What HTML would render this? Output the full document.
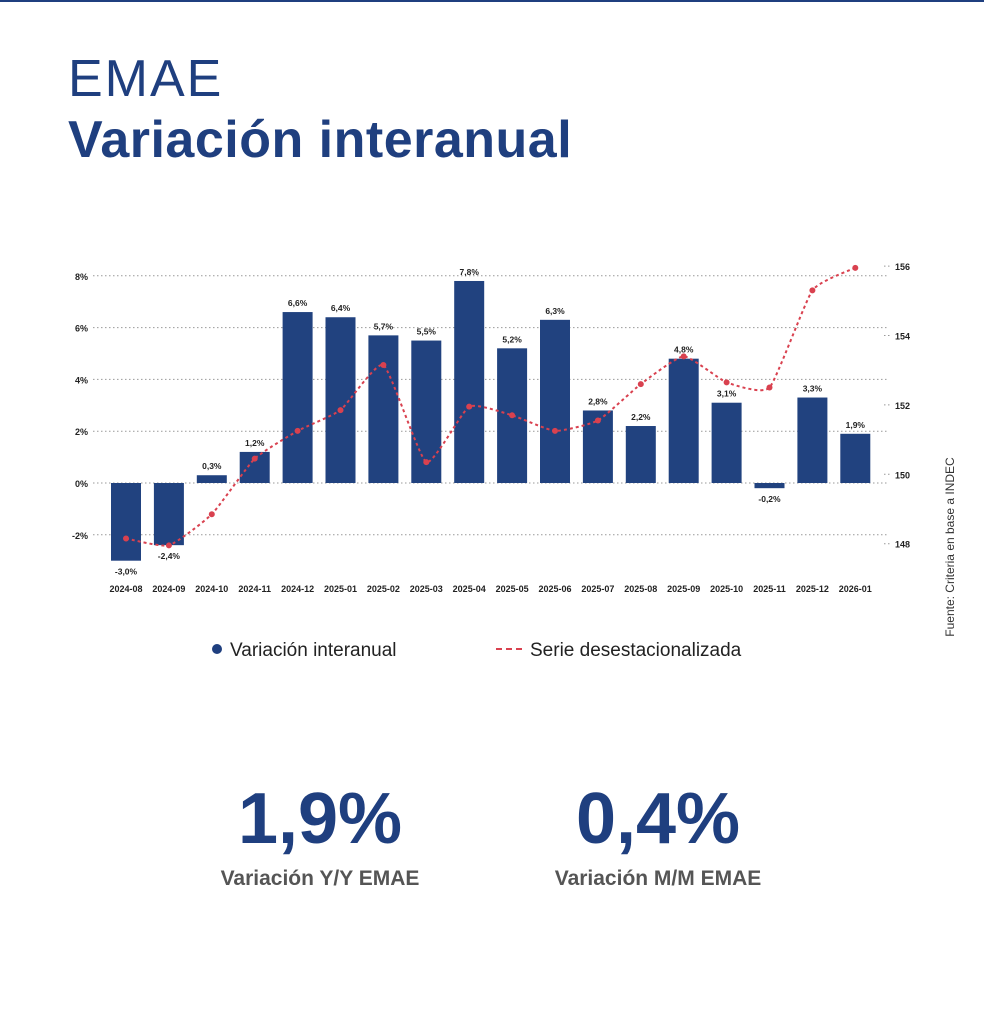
<!DOCTYPE html>
<html><head><meta charset="utf-8"><style>
body{margin:0;background:#fff;}
#wrap{position:relative;width:984px;height:1024px;overflow:hidden;font-family:"Liberation Sans",sans-serif;}
.t1{position:absolute;left:68px;top:49px;font-size:52px;color:#1f3f7f;letter-spacing:2px;}
.t2{position:absolute;left:68px;top:110px;font-size:52px;font-weight:bold;color:#1f3f7f;letter-spacing:0.5px;}
.big{position:absolute;font-size:72px;font-weight:bold;color:#1f3f7f;text-align:center;}
.sub{position:absolute;font-size:21px;font-weight:bold;color:#555;text-align:center;}
</style></head><body>
<div id="wrap">
<div style="position:absolute;left:0;top:0;width:984px;height:2px;background:#1f3f7f"></div>
<div class="t1">EMAE</div>
<div class="t2">Variación interanual</div>
<svg id="chart" width="984" height="700" style="position:absolute;left:0;top:0"></svg>
<div style="position:absolute;left:850px;top:540px;width:200px;transform:rotate(-90deg);font-size:12px;color:#333;text-align:center">Fuente: Criteria en base a INDEC</div>
<div style="position:absolute;left:212px;top:640px;font-size:19px;color:#222"><span style="display:inline-block;width:10px;height:10px;border-radius:5px;background:#1f3f7f;margin-right:8px;vertical-align:2px"></span>Variación interanual</div>
<div style="position:absolute;left:496px;top:640px;font-size:19px;color:#222"><span style="display:inline-block;width:26px;border-top:2px dashed #d9414f;margin-right:8px;vertical-align:6px"></span>Serie desestacionalizada</div>
<div class="big" style="left:200px;top:778px;width:240px">1,9%</div>
<div class="sub" style="left:170px;top:867px;width:300px">Variación Y/Y EMAE</div>
<div class="big" style="left:538px;top:778px;width:240px">0,4%</div>
<div class="sub" style="left:508px;top:867px;width:300px">Variación M/M EMAE</div>
</div>
<script>
const categories=["2024-08","2024-09","2024-10","2024-11","2024-12","2025-01","2025-02","2025-03","2025-04","2025-05","2025-06","2025-07","2025-08","2025-09","2025-10","2025-11","2025-12","2026-01"];
const yoyValues=[-3.0,-2.4,0.3,1.2,6.6,6.4,5.7,5.5,7.8,5.2,6.3,2.8,2.2,4.8,3.1,-0.2,3.3,1.9];
const seasonalValues=[148.15,147.95,148.85,150.45,151.25,151.85,153.15,150.35,151.95,151.7,151.25,151.55,152.6,153.4,152.65,152.5,155.3,155.95];
const leftTicks=[-2,0,2,4,6,8];
const rightTicks=[148,150,152,154,156];
const NS="http://www.w3.org/2000/svg";
const svg=document.getElementById('chart');
const xPos=i=>126+i*42.9;
const yL=v=>483-v*25.9;
const yR=v=>543.7-(v-148)*34.7;
function mk(t,a){const e=document.createElementNS(NS,t);for(const k in a)e.setAttribute(k,a[k]);svg.appendChild(e);return e;}
leftTicks.forEach(v=>{
  const g=mk('line',{x1:93,x2:887,y1:yL(v),y2:yL(v),stroke:'#999','stroke-dasharray':'1.5,2.5','stroke-width':1});
  
  
  const t=mk('text',{x:88,y:yL(v)+4,'text-anchor':'end','font-size':9,'font-weight':'bold',fill:'#222'});
  t.textContent=v+'%';
  
  
});
rightTicks.forEach(v=>{
  const g=mk('line',{x1:884,x2:891,y1:yR(v),y2:yR(v),stroke:'#999','stroke-dasharray':'1.5,2.5'});
  
  
  const t=mk('text',{x:895,y:yR(v)+4,'font-size':9,'font-weight':'bold',fill:'#222'});
  t.textContent=v;
  
  
});
categories.forEach((c,i)=>{
  const v=yoyValues[i],x=xPos(i);
  const y0=yL(0),y1=yL(v);
  const r=mk('rect',{x:x-15,y:Math.min(y0,y1),width:30,height:Math.abs(y1-y0),fill:'#21427f'});
  
  
  const lb=mk('text',{x:x,y:v>=0?y1-6:y1+14,'text-anchor':'middle','font-size':8.5,'font-weight':'bold',fill:'#222'});
  lb.textContent=v.toFixed(1).replace('.',',')+'%';
  
  
  const ct=mk('text',{x:x,y:592,'text-anchor':'middle','font-size':9,'font-weight':'bold',fill:'#222'});
  ct.textContent=c;
  
  
});
const pts=seasonalValues.map((v,i)=>[xPos(i),yR(v)]);
let d='M'+pts[0][0]+','+pts[0][1];
for(let i=0;i<pts.length-1;i++){
  const p0=pts[Math.max(0,i-1)],p1=pts[i],p2=pts[i+1],p3=pts[Math.min(pts.length-1,i+2)];
  const k=0.08;
  d+=' C'+(p1[0]+(p2[0]-p0[0])*k)+','+(p1[1]+(p2[1]-p0[1])*k)+' '+(p2[0]-(p3[0]-p1[0])*k)+','+(p2[1]-(p3[1]-p1[1])*k)+' '+p2[0]+','+p2[1];
}
const ln=mk('path',{d:d,fill:'none',stroke:'#d9414f','stroke-width':2,'stroke-dasharray':'3,3'});


pts.forEach(p=>{
  const c=mk('circle',{cx:p[0],cy:p[1],r:3,fill:'#d9414f'});
  
  
});
</script>
</body></html>
